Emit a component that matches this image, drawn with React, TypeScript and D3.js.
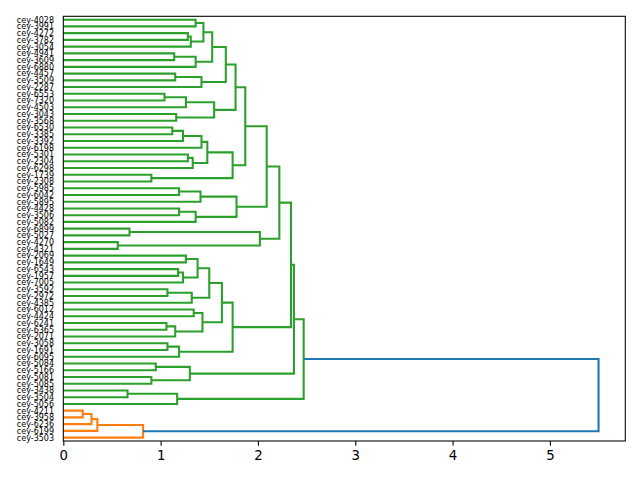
import React, { useEffect, useRef } from 'react';
import * as d3 from 'd3';

// leaf labels, top to bottom as drawn
const leafLabels = [
  'cey-4028', 'cey-3991', 'cey-4272', 'cey-3782', 'cey-3054', 'cey-4941', 'cey-3609', 'cey-6880',
  'cey-4457', 'cey-3509', 'cey-2287', 'cey-6553', 'cey-7320', 'cey-4503', 'cey-3043', 'cey-3568',
  'cey-6530', 'cey-3385', 'cey-3392', 'cey-6198', 'cey-5301', 'cey-2304', 'cey-6298', 'cey-1739',
  'cey-2308', 'cey-5985', 'cey-6042', 'cey-5895', 'cey-4428', 'cey-3506', 'cey-5082', 'cey-6899',
  'cey-5027', 'cey-4270', 'cey-4321', 'cey-2069', 'cey-1649', 'cey-6543', 'cey-1957', 'cey-7005',
  'cey-3592', 'cey-2972', 'cey-4385', 'cey-6012', 'cey-4424', 'cey-6241', 'cey-6365', 'cey-2071',
  'cey-3058', 'cey-1691', 'cey-6095', 'cey-5084', 'cey-5166', 'cey-5081', 'cey-5085', 'cey-3438',
  'cey-3504', 'cey-5056', 'cey-4211', 'cey-3958', 'cey-6236', 'cey-6199', 'cey-3503',
];

// linkage: [childA, childB, distance]; ids >= 63 refer to earlier merges (63 + index)
const merges: [number, number, number][] = [
  [0, 1, 1.36], [2, 3, 1.28], [64, 4, 1.31], [63, 65, 1.44],
  [5, 6, 1.14], [67, 7, 1.36], [66, 68, 1.53],
  [8, 9, 1.15], [70, 10, 1.42], [69, 71, 1.67],
  [11, 12, 1.04], [73, 13, 1.26], [14, 15, 1.16], [74, 75, 1.55], [72, 76, 1.77],
  [16, 17, 1.12], [78, 18, 1.23], [79, 19, 1.42], [20, 21, 1.28], [81, 22, 1.33],
  [80, 82, 1.48], [23, 24, 0.905], [83, 84, 1.74], [77, 85, 1.87],
  [25, 26, 1.19], [87, 27, 1.41], [28, 29, 1.19], [89, 30, 1.36], [88, 90, 1.78],
  [86, 91, 2.09],
  [31, 32, 0.68], [33, 34, 0.56], [93, 94, 2.02], [92, 95, 2.22],
  [35, 36, 1.26], [37, 38, 1.18], [98, 39, 1.23], [97, 99, 1.38],
  [40, 41, 1.07], [101, 42, 1.32], [100, 102, 1.5],
  [43, 44, 1.34], [45, 46, 1.06], [105, 47, 1.15], [104, 106, 1.43], [103, 107, 1.63],
  [48, 49, 1.07], [109, 50, 1.19], [108, 110, 1.74], [96, 111, 2.34],
  [51, 52, 0.95], [53, 54, 0.905], [113, 114, 1.3], [112, 115, 2.37],
  [55, 56, 0.66], [117, 57, 1.17], [116, 118, 2.47],
  [58, 59, 0.2], [120, 60, 0.29], [121, 61, 0.35], [122, 62, 0.82],
  [119, 123, 5.5],
];

const xTicks = [0, 1, 2, 3, 4, 5];

const App = () => {
  const ref = useRef<SVGSVGElement>(null);

  useEffect(() => {
    const left = 63.3, right = 625.3, top = 16.3, bottom = 441;
    const svg = d3.select(ref.current);
    svg.selectAll('*').remove();

    const n = leafLabels.length;
    const maxD = d3.max(merges, d => d[2]) as number;
    const threshold = 0.7 * maxD;

    const x = d3.scaleLinear().domain([0, maxD * 1.05]).range([left, right]);
    const y = d3.scaleLinear().domain([0, n]).range([top, bottom]);

    const nodeY: number[] = leafLabels.map((_, i) => y(i + 0.5));
    const nodeD: number[] = leafLabels.map(() => 0);
    merges.forEach(([a, b, d]) => {
      nodeY.push((nodeY[a] + nodeY[b]) / 2);
      nodeD.push(d);
    });

    // colour clusters like scipy: below threshold gets palette colours, bottom first
    const palette = ['#ff7f0e', '#2ca02c', '#d62728', '#9467bd'];
    const above = '#1f77b4';
    const colors: string[] = [];
    let next = 0;
    const paint = (id: number, c: string) => {
      if (id < n) return;
      colors[id] = c;
      const [a, b] = merges[id - n];
      [a, b].forEach(ch => paint(ch, c));
    };
    const walk = (id: number) => {
      if (id < n) return;
      const [a, b, d] = merges[id - n];
      if (d > threshold) {
        colors[id] = above;
        [a, b].sort((p, q) => nodeY[q] - nodeY[p]).forEach(ch => walk(ch));
      } else {
        paint(id, palette[next++ % palette.length]);
      }
    };
    walk(n + merges.length - 1);

    svg
      .append('g')
      .selectAll('path')
      .data(merges)
      .enter()
      .append('path')
      .attr('d', ([a, b, d]) =>
        `M${x(nodeD[a])},${nodeY[a]}H${x(d)}V${nodeY[b]}H${x(nodeD[b])}`)
      .attr('fill', 'none')
      .attr('stroke', (_, i) => colors[n + i])
      .attr('stroke-width', 2.08);

    // frame
    svg
      .append('rect')
      .attr('x', left)
      .attr('y', top)
      .attr('width', right - left)
      .attr('height', bottom - top)
      .attr('fill', 'none')
      .attr('stroke', '#000')
      .attr('stroke-width', 1.07);

    // leaf labels
    svg
      .append('g')
      .selectAll('text')
      .data(leafLabels)
      .enter()
      .append('text')
      .attr('x', left - 9.3)
      .attr('y', (_, i) => y(i + 0.5))
      .attr('dy', '0.36em')
      .attr('text-anchor', 'end')
      .style('font-family', 'DejaVu Sans')
      .style('font-size', '8px')
      .style('fill', '#000')
      .text(d => d);

    // x axis
    const axis = svg
      .append('g')
      .attr('transform', `translate(0,${bottom})`)
      .call(d3.axisBottom(x).tickValues(xTicks).tickSize(4.7).tickPadding(4.7).tickFormat(d3.format('d')));
    axis.select('.domain').remove();
    axis.selectAll('line').attr('stroke', '#000').attr('stroke-width', 1.07);
    axis
      .selectAll('text')
      .style('font-family', 'DejaVu Sans')
      .style('font-size', '13.3px')
      .style('fill', '#000');
  }, []);

  return (
    <svg
      ref={ref}
      width={640}
      height={480}
      style={{ position: 'absolute', left: 0, top: 0, background: '#fff' }}
    />
  );
};

export default App;
